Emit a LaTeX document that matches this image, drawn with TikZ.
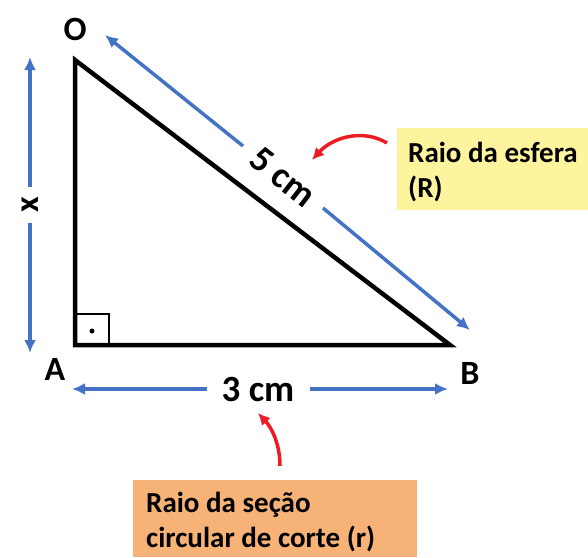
\documentclass[tikz,border=0pt]{standalone}
\usepackage{fontspec}
\setmainfont{Carlito}
\usetikzlibrary{arrows.meta}
\definecolor{myblue}{RGB}{68,114,196}
\definecolor{myred}{RGB}{235,28,36}
\definecolor{myyellow}{RGB}{255,244,158}
\definecolor{myorange}{RGB}{247,178,120}
\tikzset{
  side/.style={line width=4.5pt, line join=miter},
  dim/.style={myblue, line width=3.5pt, -{Latex[length=13pt,width=12pt]}},
  pointer/.style={myred, line width=3.5pt, -{Latex[length=12pt,width=12pt]}},
  vlabel/.style={font=\fontsize{34}{34}\selectfont\bfseries, inner sep=0pt},
  dimlabel/.style={font=\fontsize{37}{37}\selectfont\bfseries, inner sep=0pt},
  boxtext/.style={font=\fontsize{29}{35}\selectfont\bfseries, align=left, anchor=north west, inner sep=0pt}
}
\begin{document}
\begin{tikzpicture}[x=1pt,y=-1pt]
\useasboundingbox (0,0) rectangle (588,557);
% boxes
\fill[myyellow] (397,128) rectangle (588,210);
\fill[myorange] (133,480) rectangle (417,557);
\node[boxtext] (ty) at (408,142) {Raio da esfera\\(R)};
\node[boxtext] (to) at (146,492) {Raio da seção\\circular de corte (r)};
% triangle
\coordinate (O) at (75,60);
\coordinate (A) at (75,345);
\coordinate (B) at (450,345);
\draw[side] (O) -- (A) -- (B) -- cycle;
\draw[line width=2.5pt] (75,314) -- (109,314) -- (109,345);
\fill (92,331) circle (2.5pt);
% vertex labels
\node[vlabel] (lO) at (75,29) {O};
\node[vlabel] (lA) at (55,369) {A};
\node[vlabel] (lB) at (470,373) {B};
% x dimension
\node[vlabel, rotate=90] (lx) at (30,205) {x};
\coordinate (x1) at (30,57);
\coordinate (x2) at (30,353);
\draw[dim] (lx.east) ++(0,-10) -- (x1);
\draw[dim] (lx.west) ++(0,10) -- (x2);
% hypotenuse dimension
\node[dimlabel, rotate=-38] (l5) at (283,177) {5 cm};
\coordinate (h1) at (105,35);
\coordinate (h2) at (470,330);
\coordinate (h1s) at (243,146);
\coordinate (h2s) at (323,208);
\draw[dim] (h1s) -- (h1);
\draw[dim] (h2s) -- (h2);
% base dimension
\node[dimlabel] (l3) at (258,389) {3 cm};
\coordinate (b1) at (72,389);
\coordinate (b2) at (448,389);
\draw[dim] (207,389) -- (b1);
\draw[dim] (310,389) -- (b2);
% red pointers
\coordinate (r1s) at (387,143);
\coordinate (r1e) at (312,160);
\draw[pointer] (r1s) .. controls (362,128) and (332,138) .. (r1e);
\coordinate (r2s) at (280,466);
\coordinate (r2e) at (258,413);
\draw[pointer] (r2s) .. controls (280,443) and (271,427) .. (r2e);
\end{tikzpicture}
\end{document}
